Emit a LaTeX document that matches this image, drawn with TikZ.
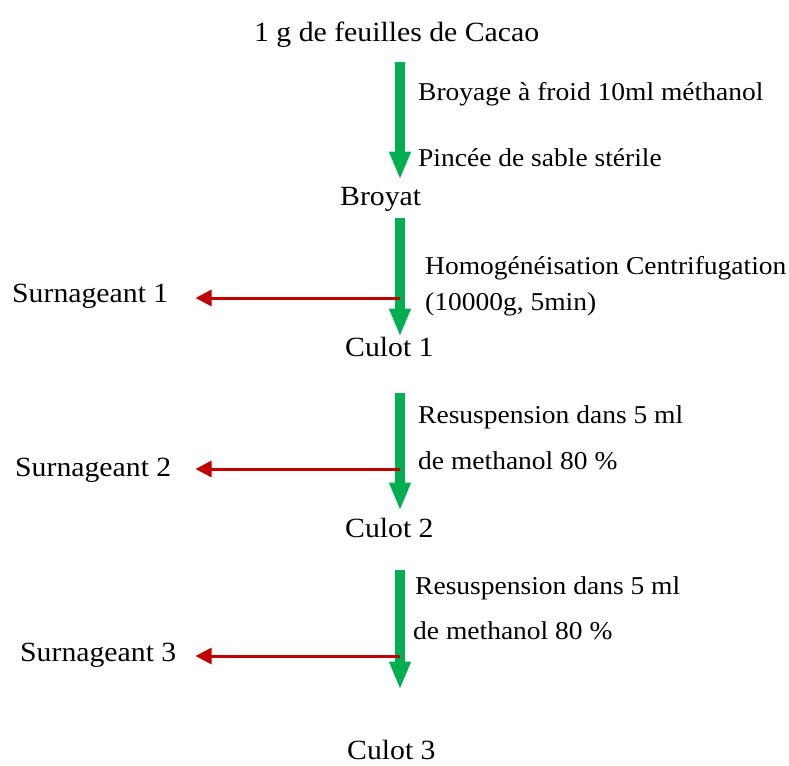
\documentclass[tikz,border=0pt]{standalone}
\usepackage{fontspec}
\setmainfont[FakeStretch=1.07]{Liberation Serif}
\usetikzlibrary{arrows.meta}
\definecolor{flowgreen}{HTML}{00B050}
\definecolor{wastered}{HTML}{C00000}
\tikzset{
    x=1pt, y=-1pt, % pixel-like units, y grows downwards
    every node/.style={inner sep=0pt, anchor=base west}, % text placed by its baseline
    stage/.style={font=\fontsize{27.8}{33}\selectfont}, % products of each step
    note/.style={font=\fontsize{25.7}{30}\selectfont}, % what is done during a step
    flow/.style={draw=flowgreen, line width=10pt, -{Triangle[width=20pt,length=28pt]}},
    waste/.style={draw=wastered, line width=3pt, -{Triangle[width=16pt,length=16pt]}},
    }
\begin{document}
\begin{tikzpicture}
\useasboundingbox (0,0) rectangle (789,765);
\coordinate (axis) at (400,0);

\node[stage] (cacao) at (254,42) {1 g de feuilles de Cacao};
\node[stage] (broyat) at (340,205) {Broyat};
\node[stage] (culot1) at (345,356) {Culot 1};
\node[stage] (culot2) at (345,537) {Culot 2};
\node[stage] (culot3) at (347,759) {Culot 3};
\node[stage] (surn1) at (12,302) {Surnageant 1};
\node[stage] (surn2) at (15,476) {Surnageant 2};
\node[stage] (surn3) at (20,661) {Surnageant 3};

\node[note] (broyage) at (418,101) {Broyage à froid 10ml méthanol};
\node[note] (sable) at (418,166) {Pincée de sable stérile};
\node[note] (homog) at (425,274) {Homogénéisation Centrifugation};
\node[note] (centri) at (425,310) {(10000g, 5min)};
\node[note] (resusp1) at (418,423) {Resuspension dans 5 ml};
\node[note] (metha1) at (418,469) {de methanol 80 \%};
\node[note] (resusp2) at (415,594) {Resuspension dans 5 ml};
\node[note] (metha2) at (413,639) {de methanol 80 \%};

% main line of the extraction
\draw[flow, shorten <=14pt, shorten >=7pt] (cacao.south -| axis) -- (broyat.north -| axis);
\draw[flow, shorten <=7pt] (broyat.south -| axis) -- (culot1.north -| axis);
\draw[flow, shorten <=37pt, shorten >=7pt] (culot1.south -| axis) -- (culot2.north -| axis);
\draw[flow, shorten <=33pt, shorten >=50pt] (culot2.south -| axis) -- (culot3.north -| axis);

% supernatants taken off
\coordinate (split1) at (400,298);
\coordinate (split2) at (400,469);
\coordinate (split3) at (400,656);
\draw[waste, shorten >=27pt] (split1) -- (split1 -| surn1.east);
\draw[waste, shorten >=24pt] (split2) -- (split2 -| surn2.east);
\draw[waste, shorten >=19pt] (split3) -- (split3 -| surn3.east);
\end{tikzpicture}
\end{document}
